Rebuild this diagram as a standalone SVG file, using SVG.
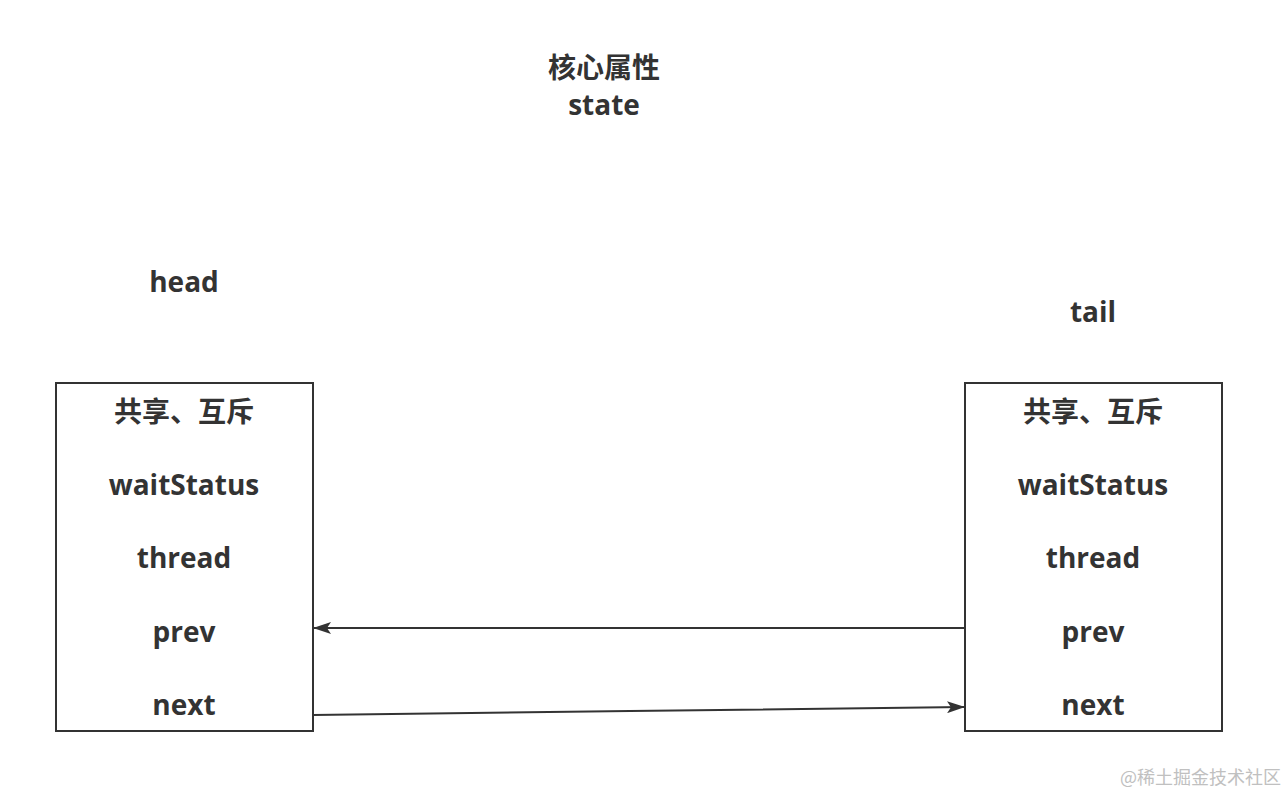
<svg xmlns="http://www.w3.org/2000/svg" width="1286" height="796" viewBox="0 0 1286 796">
<style>
.t{font-family:"Open Sans","Noto Sans CJK SC",sans-serif;font-weight:bold;font-size:28px;fill:#333;text-anchor:middle}
.box{fill:#fff;stroke:#333;stroke-width:2}
.edge{fill:none;stroke:#333;stroke-width:2}
.wm{font-family:"Noto Sans CJK SC",sans-serif;font-size:18px;fill:#c0c0c0}
</style>
<defs>
<marker id="ah" viewBox="0 0 18 12" refX="17" refY="6" markerWidth="18" markerHeight="12" markerUnits="userSpaceOnUse" orient="auto">
<path d="M0,0 L18,6 L0,12 L4,6 Z" fill="#333"/>
</marker>
</defs>
<rect width="1286" height="796" fill="#fff"/>
<g id="title">
<text class="t" x="604" y="78" font-size="27">核心属性</text>
<text class="t" x="604" y="115">state</text>
</g>
<g id="head-label"><text class="t" x="184" y="292">head</text></g>
<g id="tail-label"><text class="t" x="1093" y="322">tail</text></g>
<g id="head">
<rect class="box" x="56" y="383" width="257" height="348"/>
<text class="t" x="184" y="422">共享、互斥</text>
<text class="t" x="184" y="495">waitStatus</text>
<text class="t" x="184" y="568">thread</text>
<text class="t" x="184" y="642">prev</text>
<text class="t" x="184" y="715">next</text>
</g>
<g id="tail">
<rect class="box" x="965" y="383" width="257" height="348"/>
<text class="t" x="1093" y="422">共享、互斥</text>
<text class="t" x="1093" y="495">waitStatus</text>
<text class="t" x="1093" y="568">thread</text>
<text class="t" x="1093" y="642">prev</text>
<text class="t" x="1093" y="715">next</text>
</g>
<g id="connectors">
<line class="edge" x1="965" y1="628" x2="314" y2="628" marker-end="url(#ah)"/>
<path class="edge" d="M313,715 L630,711 L964,707" marker-end="url(#ah)"/>
</g>
<text class="wm" x="1120" y="784">@稀土掘金技术社区</text>
</svg>
